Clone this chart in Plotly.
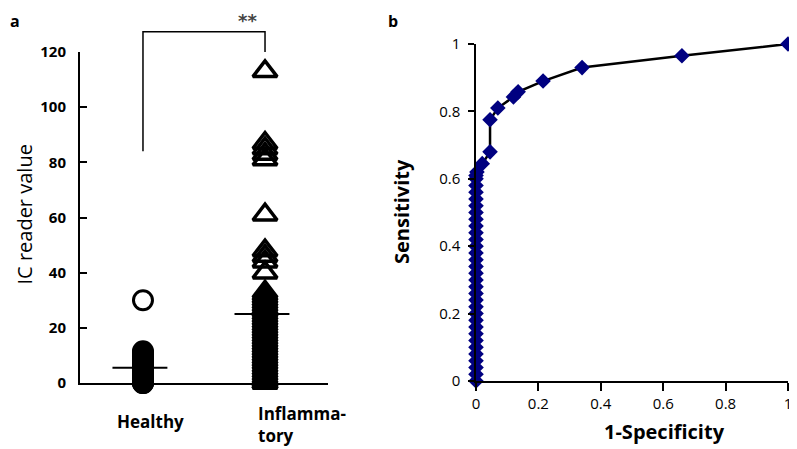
import plotly.graph_objects as go

# the page body has an 8px margin, so the figure is drawn 8px in from the top-left corner
OFF = 8
W, H = 797 - OFF, 449 - OFF

# panel a: IC reader values
groups = ["Healthy", "Inflamma-<br>tory"]
healthy = [30, 11.5, 11, 10.5, 10, 9.5, 9, 8.5, 8, 7.5, 7, 6.5, 6, 5.5, 5, 4.5, 4,
           3.5, 3, 2.5, 2, 1.5, 1, 0.5, 0, 0, 0, -1, -2]
inflam = [113, 87, 85, 83, 81, 61, 48, 46, 44, 40,
          33, 32, 31, 30, 29, 28, 27, 26, 25, 24, 23, 22, 21, 20, 19, 18, 17, 16,
          15, 14, 13, 12, 11, 10, 9, 8, 7, 6, 5, 4, 3, 2, 1, 0.5, 0, 0]
means = [5.5, 25]
bracket = {"left_foot": 84, "top": 127.3, "right_foot": 120, "stars": 135.9}

# panel b: ROC curve
fpr = [0] * 32 + [0.003, 0.02, 0.045, 0.045, 0.07, 0.12, 0.135, 0.215, 0.34, 0.66, 1.0]
tpr = [0.0, 0.02, 0.04, 0.06, 0.08, 0.10, 0.12, 0.14, 0.16, 0.18, 0.20, 0.22, 0.24,
       0.26, 0.28, 0.30, 0.32, 0.34, 0.36, 0.38, 0.40, 0.42, 0.44, 0.46, 0.48, 0.50,
       0.52, 0.54, 0.56, 0.58, 0.60, 0.61,
       0.62, 0.645, 0.68, 0.775, 0.81, 0.843, 0.858, 0.89, 0.93, 0.965, 1.0]
roc_ticks = [0, 0.2, 0.4, 0.6, 0.8, 1]

def X(p):
    return (p - OFF) / W

def Y(p):
    return 1 - (p - OFF) / H

ydom_a = [Y(383), Y(52)]
yrange_a = [0, 120]

def y_a_paper(v):
    # panel-a data value -> paper coords (the bracket sits above the axis range)
    return ydom_a[0] + (v - yrange_a[0]) / (yrange_a[1] - yrange_a[0]) * (ydom_a[1] - ydom_a[0])

fig = go.Figure()

fig.add_trace(go.Scatter(
    x=[0] * len(healthy), y=healthy, mode="markers", xaxis="x", yaxis="y",
    marker=dict(symbol="circle-open", size=19, color="black", line=dict(width=3)),
    cliponaxis=False, showlegend=False))
fig.add_trace(go.Scatter(
    x=[1] * len(inflam), y=inflam, mode="markers", xaxis="x", yaxis="y",
    marker=dict(symbol="triangle-up-open", size=21, color="black", line=dict(width=3.5)),
    cliponaxis=False, showlegend=False))
for i, m in enumerate(means):
    fig.add_shape(type="line", xref="x", yref="y", x0=i - 0.25, x1=i + 0.2, y0=m, y1=m,
                  line=dict(color="black", width=2))

# significance bracket
yl, yt, yr = (y_a_paper(bracket[k]) for k in ("left_foot", "top", "right_foot"))
fig.add_shape(type="path", xref="x", yref="paper",
              path=f"M 0,{yl} L 0,{yt} L 1,{yt} L 1,{yr}",
              line=dict(color="black", width=1.5))
fig.add_annotation(x=0.86, y=min(1, y_a_paper(bracket["stars"])), xref="x", yref="paper",
                   text="<b>**</b>", showarrow=False, yanchor="top",
                   font=dict(size=18, color="#444", family="DejaVu Sans"))

fig.add_trace(go.Scatter(
    x=fpr, y=tpr, mode="lines+markers", xaxis="x2", yaxis="y2",
    line=dict(color="black", width=2.5),
    marker=dict(symbol="diamond", size=12, color="#000080"),
    cliponaxis=False, showlegend=False))

# panel letters, category labels and axis titles
labels = [
    ("<b>a</b>", 8, 8, 0, 16, "left", "top"),
    ("<b>b</b>", 386, 8, 0, 16, "left", "top"),
    ("<b>" + groups[0] + "</b>", 150, 421, 0, 17, "center", "middle"),
    ("<b>" + groups[1] + "</b>", 256, 424, 0, 17, "left", "middle"),
    ("IC reader value", 8, 215, -90, 20, "left", "middle"),
    ("<b>Sensitivity</b>", 401, 212, -90, 20, "center", "middle"),
    ("<b>1-Specificity</b>", 664, 431, 0, 20, "center", "middle"),
]
for text, lx, ly, ang, size, xa, ya in labels:
    fig.add_annotation(x=X(lx), y=Y(ly), xref="paper", yref="paper", text=text,
                       textangle=ang, xanchor=xa, yanchor=ya, align="left",
                       showarrow=False,
                       font=dict(size=size, color="black", family="Open Sans"))

tickfont_a = dict(family="Open Sans", size=15, color="black")
tickfont_b = dict(family="Open Sans", size=15, color="black")

fig.update_layout(
    width=W, height=H, margin=dict(l=0, r=0, t=0, b=0, autoexpand=False),
    template="none",
    paper_bgcolor="white", plot_bgcolor="white",
    font=dict(family="Open Sans", color="black"),
    xaxis=dict(domain=[X(80), X(328)], range=[-0.516, 1.516], showgrid=False,
               zeroline=False, showline=True, linecolor="black", linewidth=2,
               automargin=False, showticklabels=False, ticks=""),
    yaxis=dict(domain=ydom_a, range=yrange_a, showgrid=False, zeroline=False,
               showline=True, linecolor="black", linewidth=2, tick0=0, dtick=20,
               automargin=False, ticks="inside", ticklen=7, tickwidth=1.5,
               tickcolor="black", ticklabelstandoff=9,
               tickprefix="<b>", ticksuffix="</b>", tickfont=tickfont_a),
    xaxis2=dict(domain=[X(476), X(788)], range=[0, 1], showgrid=False, zeroline=False,
                showline=True, linecolor="black", linewidth=2, anchor="y2",
                automargin=False, ticklabeloverflow="allow",
                tickvals=roc_ticks, ticktext=[f"{t:g}" for t in roc_ticks],
                ticks="outside", ticklen=8, tickwidth=1.5,
                tickcolor="black", tickfont=tickfont_b),
    yaxis2=dict(domain=[Y(381), Y(44)], range=[0, 1], showgrid=False, zeroline=False,
                showline=True, linecolor="black", linewidth=1.5, anchor="x2",
                automargin=False, ticklabelstandoff=5,
                tickvals=roc_ticks, ticktext=[f"{t:g}" for t in roc_ticks],
                ticks="outside", ticklen=6, tickwidth=1.5,
                tickcolor="black", tickfont=tickfont_b),
)

fig.write_html("out.html")
